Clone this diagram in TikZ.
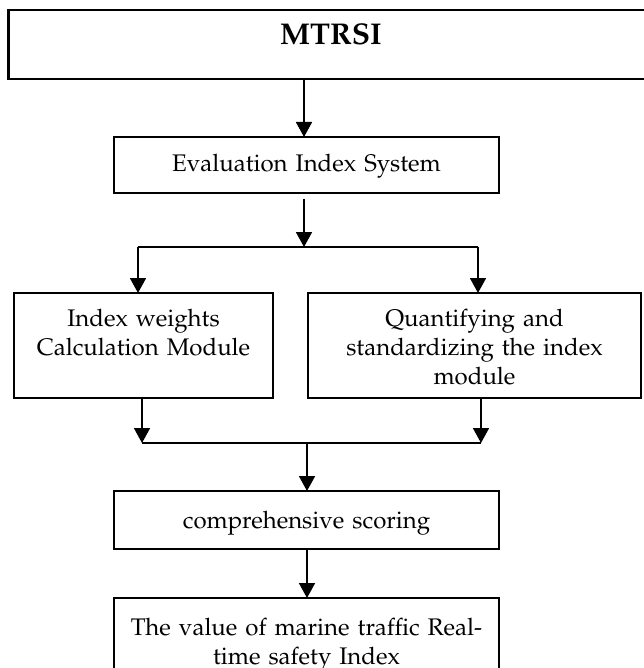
\documentclass[tikz,border=0pt]{standalone}
\usepackage[T1]{fontenc}
\usepackage{mathpazo}
\usetikzlibrary{arrows.meta,positioning}
\tikzset{
  box/.style={draw,line width=1.1pt,inner sep=0pt,outer sep=0pt,anchor=north,
    align=center,font=\fontsize{12}{14.5}\selectfont},
  flow/.style={line width=0.9pt,-{Triangle[width=8pt,length=7.5pt]}},
  joint/.style={line width=0.9pt}
}
\begin{document}
\begin{tikzpicture}[x=0.5pt,y=-0.5pt]
\useasboundingbox (0,0) rectangle (643,668);
\node[box,text width=322.5pt,text height=17.5pt,text depth=17pt,
  font=\fontsize{15}{18}\selectfont\bfseries] (mtrsi) at (331,10) {MTRSI};
\node[box,text width=192.5pt,text height=17.5pt,text depth=10.5pt] (eval) at (306.5,137)
  {Evaluation Index System};
\node[box,text width=129.5pt,text height=16.5pt,text depth=36pt] (wcalc) at (143.5,293)
  {Index weights\\Calculation Module};
\node[box,text width=166.5pt,text height=16.5pt,text depth=36pt] (quant) at (474.5,293)
  {Quantifying and\\standardizing the index\\module};
\node[box,text width=192.5pt,text height=18.5pt,text depth=10.5pt] (comp) at (306.5,491)
  {comprehensive scoring};
\node[box,text width=192.5pt,text height=18.5pt,text depth=27.5pt] (rti) at (306.5,598)
  {The value of marine traffic Real-\\time safety Index};
\coordinate (split) at (304,247);
\coordinate (lsplit) at (138,247);
\coordinate (rsplit) at (478,247);
\coordinate (lmerge) at (142,443);
\coordinate (rmerge) at (481,443);
\coordinate (merge) at (307,443);
\draw[flow] (mtrsi.south -| split) -- (split |- eval.north);
\draw[flow] ([yshift=-3pt]split |- eval.south) -- (split);
\draw[joint] (lsplit) -- (rsplit);
\draw[flow] (lsplit) -- (lsplit |- wcalc.north);
\draw[flow] (rsplit) -- (rsplit |- quant.north);
\draw[flow] (lmerge |- wcalc.south) -- (lmerge);
\draw[flow] (rmerge |- quant.south) -- (rmerge);
\draw[joint] (lmerge) -- (rmerge);
\draw[flow] (merge) -- (merge |- comp.north);
\draw[flow] (merge |- comp.south) -- (merge |- rti.north);
\end{tikzpicture}
\end{document}
